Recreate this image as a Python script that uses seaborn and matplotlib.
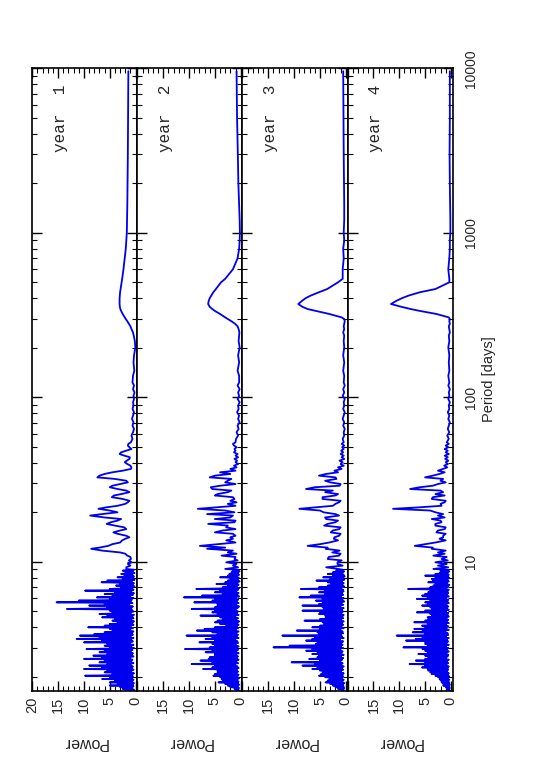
import numpy as np
import pandas as pd
import matplotlib
matplotlib.use("Agg")
import matplotlib.pyplot as plt
import seaborn as sns
from matplotlib.ticker import FixedLocator, MultipleLocator, LogLocator, NullFormatter

# Period grid (days), long periods first
period = [
    9600, 5000, 3000, 2000, 1500, 1200, 1000, 900, 800, 700,
    600, 525, 500, 455, 435, 415, 400, 385, 369, 355,
    344, 335, 321, 306, 299, 290, 280, 270, 260, 248,
    237, 220, 201, 180, 163, 145, 135,
    123, 118, 112, 107, 102, 97.7, 93.3, 89.1, 85.0, 81.1,
    77.4, 73.9, 70.5, 67.3, 64.2, 61.3, 58.5, 55.9,
    53.3, 52.1, 50.9, 49.7, 48.5, 47.4, 46.3, 45.2, 44.2, 43.2,
    42.2, 41.2, 40.3, 39.3, 38.4, 37.5, 36.7, 35.8, 35.0, 34.2,
    33.4, 32.6, 31.9, 31.1, 30.4, 29.7, 29.0, 28.4, 27.7, 27.1,
    26.5, 25.8, 25.3, 24.7, 24.1, 23.5, 23.0, 22.5, 21.9, 21.4,
    21.0, 20.5, 20.0, 19.5, 19.1, 18.6, 18.2, 17.8, 17.4, 17.0,
    16.6, 16.2, 15.8, 15.5, 15.1, 14.8, 14.4, 14.1, 13.8, 13.5,
    13.1, 12.8, 12.5, 12.2, 12.0, 11.7, 11.4, 11.2, 10.9, 10.7,
    10.4, 10.2, 9.93, 9.70, 9.48, 9.26,
    # dense short-period part
    9.05, 8.94, 8.84, 8.74, 8.64, 8.54, 8.44, 8.34, 8.24, 8.15,
    8.05, 7.96, 7.87, 7.78, 7.69, 7.60, 7.51, 7.42, 7.33, 7.25,
    7.17, 7.08, 7.00, 6.92, 6.84, 6.76, 6.68, 6.61, 6.53, 6.45,
    6.38, 6.30, 6.23, 6.16, 6.08, 6.02, 5.95, 5.88, 5.81, 5.74,
    5.67, 5.61, 5.54, 5.48, 5.42, 5.35, 5.29, 5.23, 5.17, 5.11,
    5.05, 4.99, 4.93, 4.88, 4.82, 4.76, 4.71, 4.65, 4.60, 4.54,
    4.49, 4.44, 4.39, 4.34, 4.29, 4.24, 4.19, 4.14, 4.09, 4.05,
    4.00, 3.95, 3.91, 3.86, 3.82, 3.77, 3.73, 3.68, 3.64, 3.60,
    3.56, 3.52, 3.48, 3.44, 3.40, 3.36, 3.32, 3.28, 3.24, 3.21,
    3.17, 3.13, 3.09, 3.06, 3.02, 2.99, 2.95, 2.92, 2.88, 2.85,
    2.82, 2.78, 2.75, 2.72, 2.69, 2.66, 2.63, 2.60, 2.57, 2.54,
    2.51, 2.48, 2.45, 2.42, 2.39, 2.37, 2.34, 2.31, 2.28, 2.26,
    2.23, 2.21, 2.18, 2.15, 2.13, 2.10, 2.08, 2.06, 2.03, 2.01,
    1.99, 1.96, 1.94, 1.92, 1.90, 1.87, 1.85, 1.83, 1.81, 1.79,
    1.77, 1.75, 1.73, 1.71, 1.69, 1.67, 1.65, 1.63, 1.61,
]

power_y1 = [
    1.4, 1.45, 1.5, 1.55, 1.6, 1.65, 1.7, 1.8, 1.9, 2.1,
    2.35, 2.6, 2.7, 2.9, 3.0, 3.05, 3.1, 3.1, 3.1, 3.05,
    2.95, 2.8, 2.5, 2.1, 1.9, 1.6, 1.3, 1.0, 0.8, 0.5,
    0.35, 0.15, 0.05, 0.3, 0.4, 0.25, 0.5,
    0.6, 0.3, 0.5, 0.2, 0.4, 0.3, 0.5, 0.4, 0.6, 0.3,
    0.5, 0.7, 0.4, 0.6, 0.3, 0.5, 0.8, 0.6,
    0.9, 1.4, 1.5, 1.2, 0.8, 1.8, 2.8, 3.1, 2.2, 1.1,
    1.2, 1.7, 2.1, 1.6, 1.0, 0.8, 0.9, 2.5, 4.5, 6.0,
    7.0, 7.4, 4.0, 1.8, 1.5, 3.0, 4.5, 5.0, 3.5, 1.8,
    1.2, 2.8, 4.2, 4.6, 2.5, 1.2, 1.5, 2.0, 3.5, 5.8,
    7.2, 5.0, 3.5, 6.5, 8.8, 6.0, 2.8, 3.5, 4.8, 5.6,
    4.0, 2.2, 1.8, 3.0, 4.3, 3.5, 1.8, 1.2, 2.0, 2.6,
    3.0, 4.5, 5.3, 7.0, 8.6, 6.5, 3.0, 2.0, 1.6, 1.0,
    0.9, 1.3, 0.8, 1.5, 1.0, 1.8,
    1.8, 0.3, 2.5, 0.5, 2.0, 0.2, 2.8, 0.6, 2.2, 0.3,
    3.5, 0.4, 2.5, 0.2, 5.5, 0.7, 6.6, 0.3, 3.0, 0.5,
    3.8, 0.2, 2.8, 0.6, 5.0, 0.4, 9.8, 0.8, 4.0, 0.3,
    6.0, 0.5, 4.5, 1.0, 7.5, 0.4, 5.0, 0.7, 11.0, 0.9,
    15.3, 0.6, 6.0, 1.2, 9.0, 0.5, 5.5, 0.8, 13.3, 0.7,
    5.0, 0.4, 4.5, 0.9, 7.0, 0.3, 5.5, 0.6, 6.5, 0.4,
    4.0, 0.8, 4.5, 0.3, 3.5, 0.6, 5.0, 0.4, 6.0, 0.9,
    9.2, 0.5, 5.0, 1.0, 4.5, 0.4, 6.0, 0.7, 8.0, 0.5,
    10.8, 0.9, 7.0, 0.4, 11.4, 0.8, 6.5, 0.5, 10.0, 1.0,
    5.5, 0.4, 6.0, 0.8, 5.0, 0.3, 9.5, 0.6, 6.0, 0.9,
    7.0, 0.5, 5.5, 0.7, 8.2, 0.4, 6.5, 1.0, 10.0, 0.6,
    6.0, 0.8, 7.0, 0.4, 5.5, 0.9, 9.0, 0.5, 6.5, 0.7,
    10.0, 0.4, 5.5, 0.8, 6.0, 0.3, 4.5, 0.6, 9.8, 0.5,
    5.0, 0.7, 6.5, 0.4, 4.0, 0.6, 5.0, 0.3, 3.5, 0.5,
    5.0, 0.4, 3.0, 0.6, 2.5, 0.3, 1.5, 0.2, 0.5,
]

power_y2 = [
    0.8, 0.7, 0.55, 0.45, 0.3, 0.2, 0.15, 0.2, 0.3, 0.6,
    1.5, 3.0, 3.8, 4.8, 5.3, 5.7, 6.0, 6.2, 6.3, 6.0,
    5.5, 5.0, 4.0, 3.0, 2.5, 1.8, 1.1, 0.6, 0.4, 0.25,
    0.3, 0.4, 0.2, 0.5, 0.3, 0.6, 0.3,
    0.3, 0.6, 0.2, 0.5, 0.3, 0.6, 0.2, 0.5, 0.4, 0.7,
    0.3, 0.5, 0.2, 0.6, 0.4, 0.8, 0.5, 0.9,
    1.0, 1.5, 1.3, 0.8, 1.2, 1.0, 1.3, 0.6, 1.0, 0.5,
    1.2, 0.7, 1.0, 0.5, 1.3, 0.8, 2.0, 1.0, 4.0, 2.0,
    5.0, 6.0, 1.8, 2.5, 3.0, 1.0, 4.0, 5.8, 5.5, 1.8,
    2.5, 4.5, 5.0, 1.5, 1.2, 2.0, 0.8, 2.5, 1.0, 5.0,
    8.3, 3.0, 1.2, 6.5, 1.5, 2.0, 5.0, 1.0, 1.2, 6.3,
    2.5, 2.8, 1.0, 3.5, 5.0, 1.5, 1.0, 2.0, 1.5, 2.8,
    1.0, 4.5, 7.9, 3.0, 6.5, 1.5, 2.5, 0.8, 3.7, 1.0,
    1.2, 0.6, 2.8, 0.8, 1.5, 0.5,
    3.0, 0.4, 1.5, 0.2, 1.8, 0.5, 2.2, 0.3, 2.5, 0.6,
    4.0, 0.3, 2.0, 0.5, 2.5, 0.2, 3.0, 0.6, 4.7, 0.4,
    2.5, 0.7, 3.5, 0.3, 8.6, 0.5, 4.0, 0.8, 5.0, 0.4,
    3.5, 0.6, 7.5, 0.3, 11.0, 0.9, 5.0, 0.5, 5.5, 0.7,
    9.0, 0.4, 4.5, 0.8, 4.5, 0.3, 5.0, 0.6, 9.5, 0.9,
    5.0, 0.5, 5.5, 0.7, 4.5, 0.4, 7.8, 1.0, 4.0, 0.5,
    3.5, 0.8, 4.5, 0.3, 5.0, 0.6, 4.0, 0.4, 2.8, 0.7,
    5.0, 0.5, 7.0, 0.9, 8.5, 0.4, 5.5, 0.8, 4.5, 0.5,
    10.5, 0.7, 5.5, 0.4, 6.8, 1.0, 5.0, 0.6, 8.0, 0.5,
    5.5, 0.9, 5.0, 0.4, 6.0, 0.7, 10.8, 0.5, 5.5, 0.8,
    6.8, 0.4, 5.0, 0.9, 5.0, 0.5, 6.0, 0.7, 6.2, 0.4,
    7.8, 0.8, 5.5, 0.5, 9.5, 1.0, 5.0, 0.6, 5.5, 0.4,
    7.3, 0.7, 4.5, 0.5, 4.5, 0.8, 5.0, 0.4, 5.3, 0.6,
    4.0, 0.3, 3.7, 0.6, 3.5, 0.4, 4.3, 0.5, 3.0, 0.3,
    2.5, 0.5, 2.0, 0.3, 1.2, 0.4, 0.8, 0.2, 0.5,
]

power_y3 = [
    0.5, 0.45, 0.4, 0.35, 0.3, 0.3, 0.4, 0.3, 0.5, 0.4,
    0.6, 0.6, 1.5, 3.6, 5.2, 6.8, 7.8, 8.5, 9.2, 8.4,
    7.4, 5.8, 3.2, 0.8, 0.3, 0.2, 0.3, 0.4, 0.3, 0.5,
    0.3, 0.4, 0.3, 0.5, 0.3, 0.5, 0.3,
    0.4, 0.2, 0.5, 0.3, 0.6, 0.2, 0.4, 0.3, 0.5, 0.2,
    0.4, 0.6, 0.3, 0.5, 0.2, 0.4, 0.3, 0.6,
    0.4, 0.8, 0.3, 0.7, 0.4, 0.9, 0.5, 1.0, 0.4, 0.8,
    0.3, 1.2, 0.6, 1.0, 0.4, 1.5, 0.8, 2.2, 1.5, 3.8,
    5.2, 2.0, 1.8, 4.0, 3.0, 1.0, 1.2, 6.0, 7.7, 2.5,
    4.0, 1.5, 2.0, 4.5, 4.5, 1.0, 1.3, 2.0, 2.5, 6.0,
    9.0, 5.0, 4.3, 2.0, 1.3, 4.0, 3.8, 1.5, 2.0, 3.5,
    4.2, 1.0, 1.3, 2.5, 2.9, 1.0, 1.3, 2.2, 2.3, 1.5,
    3.2, 5.0, 7.4, 3.5, 3.9, 1.2, 2.6, 1.0, 1.3, 3.3,
    3.5, 0.8, 1.6, 1.6, 0.6, 3.8,
    1.5, 0.5, 1.9, 0.3, 2.5, 0.6, 3.5, 0.4, 2.5, 0.2,
    4.4, 0.5, 3.0, 0.3, 5.7, 0.7, 3.5, 0.4, 2.9, 0.6,
    3.5, 0.3, 5.2, 0.8, 8.7, 0.5, 4.0, 0.4, 5.2, 0.7,
    4.0, 0.5, 6.8, 0.9, 9.0, 0.4, 4.5, 0.6, 5.8, 0.3,
    4.5, 0.8, 5.2, 0.5, 8.4, 1.0, 4.5, 0.4, 4.2, 0.7,
    8.4, 0.5, 5.0, 0.8, 5.2, 0.4, 4.0, 0.6, 3.9, 0.5,
    5.0, 0.9, 8.0, 0.4, 4.5, 0.7, 4.2, 0.5, 5.0, 0.8,
    6.5, 0.4, 5.0, 1.0, 9.5, 0.6, 5.5, 0.5, 5.2, 0.9,
    12.3, 0.7, 6.0, 0.4, 6.5, 1.1, 7.7, 0.5, 5.5, 0.8,
    5.8, 0.6, 10.9, 0.9, 14.0, 0.5, 6.5, 1.0, 7.7, 0.6,
    5.5, 0.8, 6.5, 0.4, 5.2, 0.9, 5.5, 0.5, 7.1, 0.7,
    5.0, 1.0, 10.5, 0.6, 6.0, 0.8, 8.4, 0.4, 5.5, 0.7,
    6.5, 0.5, 5.0, 0.9, 4.5, 0.4, 4.8, 0.6, 5.2, 0.5,
    4.0, 0.7, 3.2, 0.4, 3.5, 0.6, 3.9, 0.3, 3.0, 0.5,
    2.5, 0.4, 2.0, 0.3, 1.5, 0.4, 0.8, 0.2, 0.6,
]

power_y4 = [
    0.2, 0.2, 0.25, 0.2, 0.15, 0.1, 0.1, 0.2, 0.2, 0.3,
    0.5, 0.3, 0.3, 3.0, 6.0, 8.2, 9.5, 10.6, 11.6, 9.6,
    7.8, 6.0, 2.8, 0.4, 0.2, 0.3, 0.2, 0.4, 0.3, 0.2,
    0.4, 0.3, 0.5, 0.3, 0.4, 0.3, 0.5,
    0.3, 0.5, 0.2, 0.4, 0.3, 0.5, 0.2, 0.4, 0.3, 0.6,
    0.3, 0.5, 0.2, 0.4, 0.6, 0.3, 0.7, 0.4,
    0.8, 0.4, 1.0, 0.5, 1.2, 0.6, 1.0, 0.4, 1.2, 0.6,
    1.1, 0.5, 1.0, 0.6, 1.3, 0.7, 1.5, 2.5, 1.2, 2.2,
    3.5, 5.0, 1.5, 2.0, 1.0, 2.5, 3.5, 6.0, 7.9, 2.0,
    1.5, 3.0, 1.2, 3.5, 3.7, 1.0, 1.2, 2.0, 1.8, 6.5,
    11.2, 4.0, 3.0, 1.5, 2.5, 1.2, 3.7, 2.0, 1.8, 3.0,
    3.0, 1.0, 1.2, 2.5, 2.8, 1.0, 1.5, 1.5, 2.2, 1.0,
    3.0, 5.0, 7.0, 3.5, 3.7, 1.0, 2.5, 1.2, 3.4, 0.8,
    1.8, 0.6, 3.0, 0.8, 2.5, 0.5,
    3.4, 0.5, 2.0, 0.3, 2.1, 0.6, 3.0, 0.4, 5.0, 0.5,
    3.0, 0.3, 3.7, 0.6, 3.5, 0.4, 4.4, 0.7, 3.0, 0.3,
    3.4, 0.5, 4.0, 0.8, 8.3, 0.4, 4.0, 0.6, 4.4, 0.5,
    5.0, 0.7, 5.6, 0.4, 4.5, 0.9, 6.6, 0.5, 4.0, 0.6,
    5.0, 0.4, 4.5, 0.8, 5.6, 0.5, 4.0, 0.7, 3.7, 0.4,
    5.0, 0.9, 6.6, 0.5, 4.0, 0.6, 3.7, 0.4, 4.5, 0.8,
    4.4, 0.5, 5.0, 0.7, 7.1, 0.4, 4.5, 0.9, 5.6, 0.5,
    5.0, 0.8, 7.1, 0.4, 5.5, 1.0, 7.4, 0.6, 5.0, 0.5,
    10.5, 0.9, 5.5, 0.4, 6.8, 0.7, 8.7, 0.5, 5.0, 0.8,
    5.0, 0.4, 4.5, 0.9, 9.2, 0.5, 5.5, 0.7, 5.0, 0.4,
    4.5, 0.8, 6.3, 0.5, 5.0, 0.6, 4.4, 0.9, 5.0, 0.4,
    6.8, 0.7, 5.0, 0.5, 8.0, 0.8, 5.0, 0.4, 5.6, 0.6,
    4.5, 0.5, 4.4, 0.7, 4.0, 0.4, 3.7, 0.6, 3.0, 0.3,
    2.5, 0.5, 2.2, 0.3, 2.0, 0.4, 1.8, 0.3, 1.5, 0.2,
    1.5, 0.3, 1.0, 0.2, 0.8, 0.3, 0.5, 0.2, 0.5,
]

years = ["year  1", "year  2", "year  3", "year  4"]
powers = [power_y1, power_y2, power_y3, power_y4]

df = pd.concat(
    [pd.DataFrame({"period": period, "power": p, "year": y}) for y, p in zip(years, powers)],
    ignore_index=True,
)

sns.set_style("ticks")
plt.rcParams["font.family"] = ["Liberation Sans", "DejaVu Sans"]

fig, axes = plt.subplots(1, 4, figsize=(5.42, 7.82), dpi=100, sharey=True)
fig.subplots_adjust(left=0.0596, right=0.8352, bottom=0.1164, top=0.9127, wspace=0)

for i, (ax, yr) in enumerate(zip(axes, years)):
    ax.set_yscale("log")
    sns.lineplot(data=df[df["year"] == yr], x="power", y="period", orient="y",
                 estimator=None, sort=True, color="#0000ee", lw=1.3, ax=ax)
    ax.set_xlim(20, -0.35)
    ax.set_ylim(1.64, 10000)
    ax.set_xlabel("")
    ax.set_ylabel("")

    ax.xaxis.set_major_locator(FixedLocator([0, 5, 10, 15, 20]))
    ax.xaxis.set_minor_locator(MultipleLocator(1))
    lbls = ["0", "5", "10", "15", "20"] if i == 0 else ["0", "5", "10", "15", ""]
    ax.set_xticklabels(lbls, rotation=90, fontsize=10.5)

    ax.tick_params(which="both", direction="in", top=True, bottom=True,
                   left=True, right=True, labelleft=False, labelright=(i == 3),
                   color="black", pad=4)
    ax.tick_params(which="major", length=7, width=1.0)
    ax.tick_params(which="minor", length=3.8, width=0.8)
    for s in ax.spines.values():
        s.set_linewidth(1.2)
        s.set_color("black")

    ax.text(0.27, 0.92, yr, transform=ax.transAxes, rotation=90, ha="center",
            va="center", fontsize=11.5, family="Liberation Mono")
    ax.text(0.5, -0.0835, "Power", transform=ax.transAxes, rotation=180,
            ha="center", va="center", fontsize=11.5)

axes[0].yaxis.set_major_locator(FixedLocator([10, 100, 1000, 10000]))
axes[0].yaxis.set_minor_locator(LogLocator(base=10, subs=np.arange(2, 10)))
axes[0].yaxis.set_minor_formatter(NullFormatter())
axes[3].set_yticklabels(["10", "100", "1000", "10000"])
for t in axes[3].get_yticklabels():
    t.set_rotation(90)
    t.set_va("center")
    t.set_fontsize(10)
axes[3].tick_params(axis="y", pad=8)

axes[3].text(1.35, 0.5, "Period [days]", transform=axes[3].transAxes, rotation=90,
             ha="center", va="center", fontsize=10.5)

fig.savefig("out.png", dpi=100)
